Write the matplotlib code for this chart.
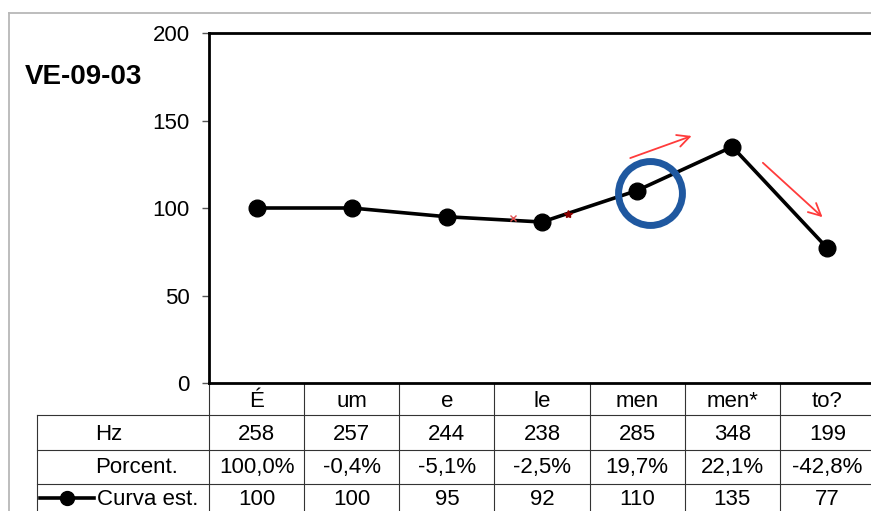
import matplotlib
matplotlib.use("Agg")
import matplotlib.pyplot as plt
from matplotlib.lines import Line2D

plt.rcParams['font.family'] = ['Liberation Sans', 'DejaVu Sans']

# dados
titulo = 'VE-09-03'
silabas = ['É', 'um', 'e', 'le', 'men', 'men*', 'to?']
hz = [258, 257, 244, 238, 285, 348, 199]
porcent = ['100,0%', '-0,4%', '-5,1%', '-2,5%', '19,7%', '22,1%', '-42,8%']
curva = [100, 100, 95, 92, 110, 135, 77]
linhas = ['Hz', 'Porcent.', 'Curva est.']
destaque = 4  # silaba "men" circulada

W, H = 871, 511
fig = plt.figure(figsize=(W / 100, H / 100), dpi=100)
Y0, AH = 383, 350  # base do grafico e altura em px
ax = fig.add_axes([209 / W, (H - Y0) / H, 666 / W, AH / H])


def fy(py):
    # px da figura -> fracao do eixo
    return (Y0 - py) / AH


ax.plot(range(len(curva)), curva, color='black', lw=2.6, marker='o', ms=12, zorder=3)
ax.set_xlim(-0.5, len(curva) - 0.5)
ax.set_ylim(0, 200)
ax.set_yticks([0, 50, 100, 150, 200])
ax.set_xticks([])
ax.tick_params(axis='y', labelsize=16, length=5, width=1, pad=9, color='#555555')
for s in ax.spines.values():
    s.set_linewidth(2)

# circulo azul e setas vermelhas
ax.plot(destaque + 0.13, curva[destaque] - 1.5, marker='o', ms=46, mfc='none',
        mec='#1f58a0', mew=5, zorder=4)
seta = dict(arrowstyle='->', color='#ff3b3b', lw=1.3, mutation_scale=22)
ax.annotate('', xy=(destaque + 0.6, 141.7), xytext=(destaque - 0.1, 128), arrowprops=seta)
ax.annotate('', xy=(destaque + 1.97, 93.7), xytext=(destaque + 1.3, 126.9), arrowprops=seta)
ax.plot([2.70], [94.3], marker='x', ms=4, color='#e05050', mew=1, zorder=4)
ax.plot([3.27], [96.6], marker='*', ms=6, color='#8b0000', zorder=4)

# titulo
fig.text(25 / W, 1 - 77 / H, titulo, fontsize=20, weight='bold', va='center')

# moldura cinza
fig.add_artist(Line2D([9 / W, 9 / W], [0, 1 - 13 / H], color='#b8b8b8', lw=1.3))
fig.add_artist(Line2D([9 / W, 1], [1 - 13 / H, 1 - 13 / H], color='#b8b8b8', lw=1.3))

# tabela de dados
tr = ax.get_xaxis_transform()
xl = -0.5 - (209 - 37) / (666 / 7)
xt = -0.5 - (209 - 95) / (666 / 7)
lc = dict(color='#333333', lw=0.8, transform=tr, clip_on=False)
for k in range(len(curva) + 1):
    ax.plot([k - 0.5, k - 0.5], [fy(383), fy(520)], **lc)
ax.plot([xl, xl], [fy(415), fy(520)], **lc)
for py in [415, 450, 484]:
    ax.plot([xl, len(curva) - 0.5], [fy(py), fy(py)], **lc)

fs = 16
for i in range(len(curva)):
    ax.text(i, fy(407), silabas[i], transform=tr, ha='center', va='baseline', fontsize=fs, clip_on=False)
    ax.text(i, fy(440), str(hz[i]), transform=tr, ha='center', va='baseline', fontsize=fs, clip_on=False)
    ax.text(i, fy(473), porcent[i], transform=tr, ha='center', va='baseline', fontsize=fs, clip_on=False)
    ax.text(i, fy(505), str(curva[i]), transform=tr, ha='center', va='baseline', fontsize=fs, clip_on=False)

ax.text(xt, fy(440), linhas[0], transform=tr, ha='left', va='baseline', fontsize=fs, clip_on=False)
ax.text(xt, fy(473), linhas[1], transform=tr, ha='left', va='baseline', fontsize=fs, clip_on=False)
ax.text(xt + 0.02, fy(505), linhas[2], transform=tr, ha='left', va='baseline', fontsize=fs, clip_on=False)
# simbolo da legenda
x1 = -0.5 - (209 - 40) / (666 / 7)
x2 = -0.5 - (209 - 94) / (666 / 7)
ax.plot([x1, x2], [fy(498), fy(498)], color='black', lw=2.6, transform=tr, clip_on=False)
ax.plot([(x1 + x2) / 2], [fy(498)], marker='o', ms=10, color='black', transform=tr, clip_on=False)

fig.savefig('out.png', dpi=100)
